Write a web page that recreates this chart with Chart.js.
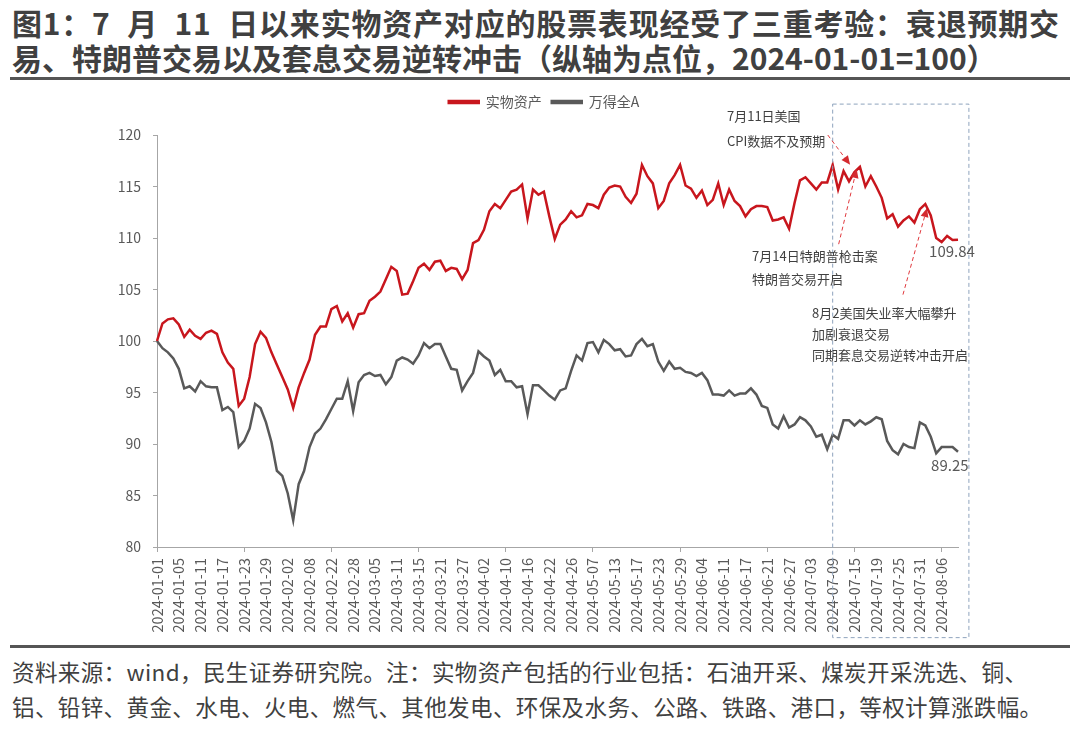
<!DOCTYPE html>
<html lang="zh">
<head>
<meta charset="UTF-8">
<title>实物资产 vs 万得全A</title>
<script src="https://cdn.jsdelivr.net/npm/chart.js"></script>
<style>
  body { margin: 0; background: #fff; font-family: "Noto Sans CJK SC", sans-serif; }
  #page { position: relative; width: 1080px; height: 729px; overflow: hidden; }
  .title { position: absolute; left: 12px; top: 5px; font-size: 30px; font-weight: bold; color: #404040; line-height: 35px; white-space: nowrap; word-spacing: 9px; }
  .title .l1 { letter-spacing: 0.8px; }
  .rule { position: absolute; left: 10px; width: 1060px; height: 3px; background: #555; }
  .source { position: absolute; left: 12px; top: 654px; font-size: 22.5px; color: #404040; line-height: 35px; white-space: nowrap; letter-spacing: 0.4px; }
  #box { position: absolute; left: 0; top: 85px; width: 1080px; height: 560px; }
</style>
</head>
<body>
<div id="page">
  <div class="title"><span class="l1">图1：7 月 11 日以来实物资产对应的股票表现经受了三重考验：衰退预期交</span><br>易、特朗普交易以及套息交易逆转冲击（纵轴为点位，2024-01-01=100）</div>
  <div class="rule" style="top:77px"></div>
  <div id="box"><canvas id="c"></canvas></div>
  <div class="rule" style="top:645px"></div>
  <div class="source">资料来源：wind，民生证券研究院。注：实物资产包括的行业包括：石油开采、煤炭开采洗选、铜、<br>铝、铅锌、黄金、水电、火电、燃气、其他发电、环保及水务、公路、铁路、港口，等权计算涨跌幅。</div>
</div>

<script>
// trading days 2024 (01-01 kept as base day)
const jan = [1, 2, 3, 4, 5, 8, 9, 10, 11, 12, 15, 16, 17, 18, 19, 22, 23, 24, 25, 26, 29, 30, 31];
const feb = [1, 2, 5, 6, 7, 8, 19, 20, 21, 22, 23, 26, 27, 28, 29];
const mar = [1, 4, 5, 6, 7, 8, 11, 12, 13, 14, 15, 18, 19, 20, 21, 22, 25, 26, 27, 28, 29];
const apr = [1, 2, 3, 8, 9, 10, 11, 12, 15, 16, 17, 18, 19, 22, 23, 24, 25, 26, 29, 30];
const may = [6, 7, 8, 9, 10, 13, 14, 15, 16, 17, 20, 21, 22, 23, 24, 27, 28, 29, 30, 31];
const jun = [3, 4, 5, 6, 7, 11, 12, 13, 14, 17, 18, 19, 20, 21, 24, 25, 26, 27, 28];
const jul = [1, 2, 3, 4, 5, 8, 9, 10, 11, 12, 15, 16, 17, 18, 19, 22, 23, 24, 25, 26, 29, 30, 31];
const aug = [1, 2, 5, 6, 7, 8, 9];

// 实物资产
const realAssets = [
  100.0, 101.7, 102.1, 102.2, 101.6, 100.4, 101.1, 100.5, 100.2, 100.8,
  101.0, 100.7, 98.9, 97.9, 97.3, 93.7, 94.4, 96.5, 99.7, 100.9,
  100.3, 98.9, 97.7, 96.5, 95.3, 93.5, 95.5, 96.9, 98.2, 100.6,
  101.4, 101.4, 103.1, 103.4, 101.9, 102.7, 101.3, 102.6, 102.7, 103.9,
  104.3, 104.8, 106.0, 107.2, 106.8, 104.5, 104.6, 105.8, 107.1, 107.5,
  106.9, 107.7, 107.8, 106.8, 107.1, 107.0, 106.0, 106.9, 109.5, 109.8,
  110.8, 112.6, 113.3, 112.9, 113.7, 114.5, 114.7, 115.2, 111.9, 114.7,
  114.2, 114.5, 112.1, 109.9, 111.3, 111.8, 112.6, 112.0, 112.2, 113.3,
  113.2, 112.9, 114.2, 114.9, 115.1, 115.0, 114.0, 113.4, 114.3, 117.1,
  116.0, 115.3, 112.9, 113.6, 115.3, 116.1, 117.1, 115.1, 114.8, 113.9,
  114.6, 113.2, 113.7, 115.3, 113.2, 114.7, 113.6, 113.1, 112.1, 112.8,
  113.1, 113.1, 113.0, 111.7, 111.8, 112.0, 110.9, 113.4, 115.6, 115.9,
  115.3, 114.7, 115.4, 115.4, 117.1, 114.7, 116.5, 115.5, 116.4, 116.9,
  115.0, 116.0, 115.0, 113.9, 111.9, 112.3, 111.1, 111.7, 112.1, 111.5,
  112.8, 113.3, 112.2, 110.0, 109.6, 110.2, 109.8, 109.84
];

// 万得全A
const windA = [
  100.0, 99.3, 98.9, 98.3, 97.3, 95.4, 95.6, 95.1, 96.1, 95.6,
  95.5, 95.5, 93.3, 93.6, 93.1, 89.7, 90.3, 91.5, 93.9, 93.5,
  92.1, 90.2, 87.4, 86.9, 85.2, 82.6, 86.1, 87.4, 89.7, 91.0,
  91.5, 92.4, 93.4, 94.4, 94.4, 96.1, 93.2, 96.0, 96.7, 96.9,
  96.6, 96.7, 95.8, 96.5, 98.1, 98.4, 98.2, 97.8, 98.6, 99.8,
  99.3, 99.7, 99.7, 98.5, 97.3, 97.2, 95.2, 96.1, 96.9, 99.0,
  98.5, 98.1, 96.7, 97.2, 96.1, 96.1, 95.5, 95.6, 92.9, 95.7,
  95.7, 95.2, 94.7, 94.3, 95.2, 95.4, 97.1, 98.6, 98.1, 99.8,
  99.9, 98.9, 100.1, 99.7, 99.1, 99.2, 98.5, 98.6, 99.7, 100.2,
  99.5, 99.7, 98.0, 97.1, 98.0, 97.3, 97.4, 97.0, 96.9, 96.6,
  96.9, 96.2, 94.8, 94.8, 94.7, 95.2, 94.7, 94.9, 94.9, 95.4,
  94.8, 93.7, 93.5, 91.9, 91.5, 92.7, 91.6, 91.9, 92.6, 92.3,
  91.7, 90.7, 90.9, 89.5, 90.9, 90.5, 92.3, 92.3, 91.8, 92.3,
  91.9, 92.2, 92.6, 92.4, 90.3, 89.4, 89.0, 90.0, 89.7, 89.6,
  92.1, 91.8, 90.7, 89.1, 89.7, 89.7, 89.7, 89.25
];

const yTicks = [80, 85, 90, 95, 100, 105, 110, 115, 120];

const pad = n => String(n).padStart(2, '0');
const labels = [];
[jan, feb, mar, apr, may, jun, jul, aug].forEach((days, m) => {
  days.forEach(d => labels.push('2024-' + pad(m + 1) + '-' + pad(d)));
});

// annotation text, placed in data units (category index, value)
const callouts = [
  { lines: ['7月11日美国', 'CPI数据不及预期'], x: 104.6, y: [121.8, 119.4], from: [123.1, 120.0], to: [127.2, 117.1] },
  { lines: ['7月14日特朗普枪击案', '特朗普交易开启'], x: 109.2, y: [108.2, 106.0], from: [125.1, 109.4], to: [128.4, 116.7] },
  { lines: ['8月2美国失业率大幅攀升', '加剧衰退交易', '同期套息交易逆转冲击开启'], x: 120.2, y: [102.7, 100.7, 98.6], from: [136.9, 104.5], to: [141.3, 112.9] }
];

const font = 'Noto Sans CJK SC';
const axisGrey = '#a6a6a6';
const textGrey = '#595959';

// push the plot down a bit under the legend, and nudge the legend right
const legendGap = {
  id: 'legendGap',
  beforeLayout(chart) {
    const lg = chart.legend;
    if (lg && !lg._gap) {
      const fit = lg.fit;
      lg.fit = function () { fit.call(this); this.height += 16; };
      lg._gap = true;
    }
  },
  afterLayout(chart) {
    const lg = chart.legend;
    if (lg) { lg.left += 65; lg.right += 65; }
  }
};

function arrow(ctx, x1, y1, x2, y2) {
  const a = Math.atan2(y2 - y1, x2 - x1);
  const len = 9;
  ctx.setLineDash([4, 3]);
  ctx.beginPath();
  ctx.moveTo(x1, y1);
  ctx.lineTo(x2 - Math.cos(a) * len, y2 - Math.sin(a) * len);
  ctx.stroke();
  ctx.setLineDash([]);
  ctx.beginPath();
  ctx.moveTo(x2, y2);
  ctx.lineTo(x2 - Math.cos(a) * len + Math.sin(a) * 4, y2 - Math.sin(a) * len - Math.cos(a) * 4);
  ctx.lineTo(x2 - Math.cos(a) * len - Math.sin(a) * 4, y2 - Math.sin(a) * len + Math.cos(a) * 4);
  ctx.closePath();
  ctx.fill();
}

const notes = {
  id: 'notes',
  afterDatasetsDraw(chart) {
    const { ctx, scales: { x, y } } = chart;
    const px = v => x.getPixelForValue(v);
    const py = v => y.getPixelForValue(v);
    ctx.save();

    // dashed window from 07-09 onward
    ctx.strokeStyle = '#8ea3bd';
    ctx.lineWidth = 1;
    ctx.setLineDash([4, 3]);
    const bx = px(labels.indexOf('2024-07-09'));
    ctx.strokeRect(bx, py(123), px(149) - bx, py(71.2) - py(123));
    ctx.setLineDash([]);

    ctx.fillStyle = '#404040';
    ctx.font = '13px "' + font + '"';
    ctx.textBaseline = 'middle';
    ctx.textAlign = 'left';
    callouts.forEach(c => {
      c.lines.forEach((t, i) => ctx.fillText(t, px(c.x), py(c.y[i])));
    });

    ctx.strokeStyle = '#e0393e';
    ctx.fillStyle = '#d42a2f';
    ctx.lineWidth = 1;
    callouts.forEach(c => arrow(ctx, px(c.from[0]), py(c.from[1]), px(c.to[0]), py(c.to[1])));

    // last values
    const last = labels.length - 1;
    ctx.fillStyle = textGrey;
    ctx.font = '15px "' + font + '"';
    ctx.textAlign = 'center';
    ctx.fillText(realAssets[last].toFixed(2), px(last - 1.1), py(realAssets[last] - 1.15));
    ctx.fillText(windA[last].toFixed(2), px(last - 1.5), py(windA[last] - 1.35));
    ctx.restore();
  }
};

new Chart(document.getElementById('c'), {
  type: 'line',
  data: {
    labels: labels,
    datasets: [
      { label: '实物资产', data: realAssets, borderColor: '#c8161d', backgroundColor: '#c8161d', borderWidth: 2.5, pointRadius: 0, tension: 0 },
      { label: '万得全A', data: windA, borderColor: '#595959', backgroundColor: '#595959', borderWidth: 2.5, pointRadius: 0, tension: 0 }
    ]
  },
  options: {
    responsive: true,
    maintainAspectRatio: false,
    animation: false,
    layout: { padding: { left: 0, right: 122, top: 0, bottom: 0 } },
    plugins: {
      legend: {
        position: 'top',
        labels: { boxWidth: 30, boxHeight: 2, color: textGrey, font: { size: 14, family: font }, padding: 10 }
      },
      tooltip: { enabled: false }
    },
    scales: {
      x: {
        border: { color: axisGrey },
        grid: { drawOnChartArea: false, tickLength: 5, color: c => (c.index % 4 === 0 ? axisGrey : 'rgba(0,0,0,0)') },
        ticks: {
          autoSkip: false, minRotation: 90, maxRotation: 90, color: textGrey, font: { size: 14.5, family: font }, padding: 6,
          callback: function (v, i) { return i % 4 === 0 ? this.getLabelForValue(v) : null; }
        },
        afterFit: s => { s.height = 98; }
      },
      y: {
        min: yTicks[0], max: yTicks[yTicks.length - 1],
        border: { color: axisGrey },
        grid: { drawOnChartArea: false, tickLength: 4, color: axisGrey },
        ticks: { stepSize: 5, color: textGrey, font: { size: 14, family: font }, padding: 12 },
        afterFit: s => { s.width = 157; }
      }
    }
  },
  plugins: [legendGap, notes]
});
</script>
</body>
</html>
